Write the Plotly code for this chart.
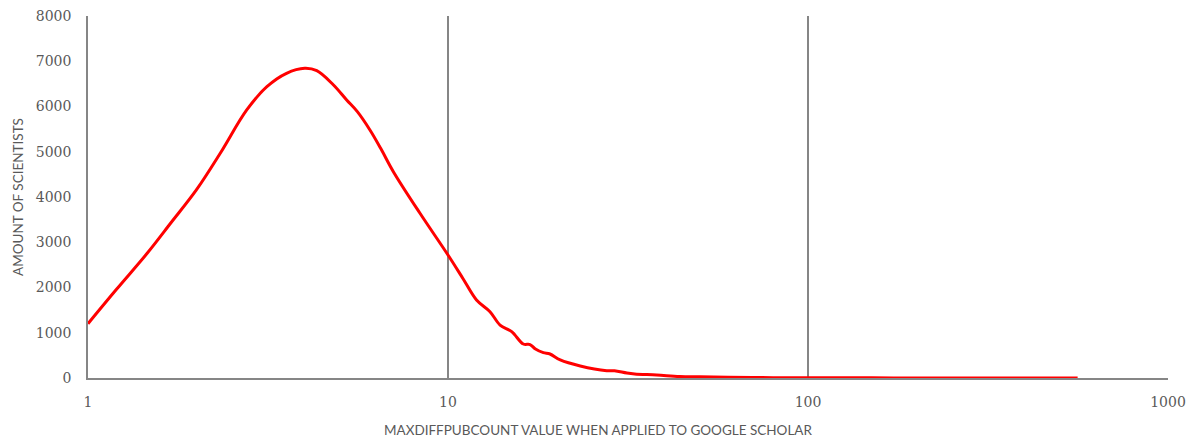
import plotly.graph_objects as go

x_values = [1, 1.2, 1.46, 1.7, 2.0, 2.33, 2.76, 3.14, 3.56, 4.0, 4.32, 4.8, 5.23, 5.6, 6.07, 6.5,
            7.05, 8.36, 10, 11, 12, 13.08, 13.95, 15.03, 16.19, 16.9, 17.5, 18.4, 19.2,
            20.5, 23.3, 27.6, 29, 31.4, 33, 38, 44, 50, 60, 80, 100, 150, 200, 300, 561]
y_values = [1200, 1960, 2756, 3430, 4155, 4966, 5923, 6438, 6734, 6844, 6792, 6480, 6144, 5886, 5481, 5076,
            4560, 3640, 2718, 2200, 1724, 1466, 1171, 1024, 751, 740, 640, 560, 530,
            398, 265, 162, 160, 110, 90, 66, 33, 25, 15, 8, 5, 3, 2, 1, 1]

x_tick_vals = [1, 10, 100, 1000]
x_tick_text = ["1", "10", "100", "1000"]
y_tick_vals = [0, 1000, 2000, 3000, 4000, 5000, 6000, 7000, 8000]

x_title = "MAXDIFFPUBCOUNT VALUE WHEN APPLIED TO GOOGLE SCHOLAR"
y_title = "AMOUNT OF SCIENTISTS"

fig = go.Figure()
fig.add_trace(go.Scatter(
    x=x_values, y=y_values, mode="lines",
    line=dict(color="#ff0000", width=3, shape="spline", smoothing=1.0),
    showlegend=False, hoverinfo="x+y",
))

axis_color = "#868686"
tick_font = dict(family="DejaVu Serif", size=14, color="#595959")

fig.update_layout(
    width=1199, height=441,
    margin=dict(l=88, r=31, t=16, b=63, autoexpand=False),
    paper_bgcolor="white", plot_bgcolor="white",
    xaxis=dict(
        type="log", range=[0, 3], automargin=False,
        tickvals=x_tick_vals, ticktext=x_tick_text,
        showgrid=True, gridcolor=axis_color, gridwidth=1.5,
        showline=True, linecolor=axis_color, linewidth=1.5,
        ticks="", tickfont=tick_font, zeroline=False, ticklabelstandoff=10,
    ),
    yaxis=dict(
        range=[0, 8000], tickvals=y_tick_vals, automargin=False,
        showgrid=False, showline=True, linecolor=axis_color, linewidth=1.5,
        ticks="", tickfont=tick_font, zeroline=False, ticklabelstandoff=12,
    ),
    annotations=[
        dict(text=x_title, xref="paper", yref="paper", x=0.472, y=0,
             yshift=-62, xanchor="center", yanchor="bottom", showarrow=False,
             font=dict(family="Lato", size=13.5, color="#595959")),
        dict(text=y_title, xref="paper", yref="paper", x=0, y=0.5,
             xshift=-80, xanchor="left", yanchor="middle", showarrow=False, textangle=-90,
             font=dict(family="Lato", size=13.5, color="#595959")),
    ],
)

fig.write_html("out.html")
